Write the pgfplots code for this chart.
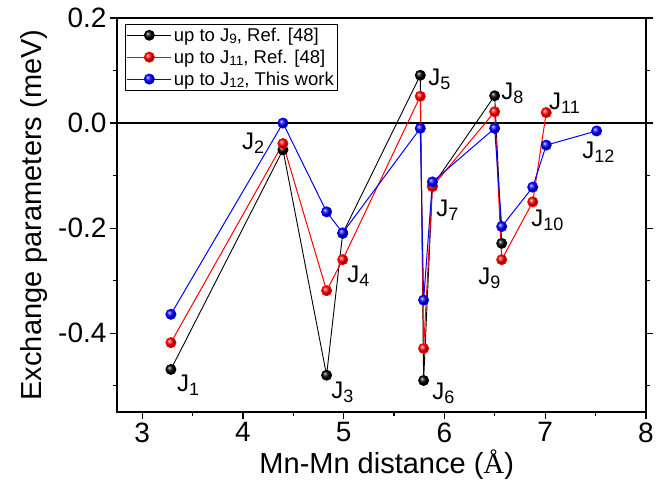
\documentclass[border=0pt]{standalone}
\usepackage{fontspec}
\setmainfont{Liberation Sans}
\newfontfamily\serifA{Liberation Serif}
\usepackage{pgfplots}
\pgfplotsset{compat=1.18}
\newcommand{\lbl}[1]{\fontsize{24}{26}\selectfont J\raisebox{-0.3ex}{\fontsize{18}{20}\selectfont #1}}
\newcommand{\lsub}[1]{\raisebox{-0.25ex}{\fontsize{13.5}{15}\selectfont #1}}
\begin{document}
\begin{tikzpicture}
\useasboundingbox (-117pt,-73pt) rectangle (549pt,412pt);
\begin{axis}[
  scale only axis, width=529pt, height=394pt,
  xmin=2.75, xmax=8, ymin=-0.55, ymax=0.2,
  xtick={3,4,5,6,7,8}, minor xtick={3.5,4.5,5.5,6.5,7.5},
  ytick={-0.4,-0.2,0,0.2}, minor ytick={-0.5,-0.3,-0.1,0.1},
  xtick pos=bottom, ytick pos=both,
  tick align=outside,
  major tick length=7pt, minor tick length=3.5pt,
  every tick/.style={black, line width=1.2pt},
  axis line style={line width=1.6pt},
  /pgf/number format/assume math mode=true,
  tick label style={font=\fontsize{28}{30}\selectfont},
  yticklabel style={/pgf/number format/fixed, /pgf/number format/fixed zerofill, /pgf/number format/precision=1},
  xticklabel style={/pgf/number format/fixed},
  xlabel={Mn-Mn distance ({\serifA Å})},
  ylabel={Exchange parameters (meV)},
  xlabel style={font=\fontsize{29}{31}\selectfont, at={(axis description cs:0.51,-0.157)}, anchor=base},
  ylabel style={font=\fontsize{29}{31}\selectfont, at={(axis description cs:-0.157,0.5)}, anchor=center},
  clip=false,
  legend style={at={(rel axis cs:0.015,0.985)}, anchor=north west, draw=black, line width=0.8pt,
    font=\fontsize{18.5}{20}\selectfont, inner sep=1.5pt, row sep=3pt, legend cell align=left},
  legend image code/.code={\draw[mark repeat=2,mark phase=2,#1] plot coordinates {(0pt,0pt)(22pt,0pt)(44pt,0pt)};},
]
\addplot[black, line width=1.5pt, forget plot] coordinates {(2.75,0) (8,0)};
\addplot[black, line width=0.9pt, mark=ball, mark size=5pt, mark options={ball color=black}] coordinates {
(3.285,-0.469) (4.397,-0.051) (4.83,-0.48) (4.99,-0.21) (5.76,0.091) (5.793,-0.49) (5.88,-0.12) (6.498,0.052) (6.568,-0.229)};
\addlegendentry{up to J\lsub{9}, Ref. [48]}
\addplot[red, line width=1pt, mark=ball, mark size=5pt, mark options={ball color=red}] coordinates {
(3.285,-0.418) (4.397,-0.039) (4.83,-0.319) (4.99,-0.26) (5.76,0.051) (5.793,-0.429) (5.88,-0.121) (6.498,0.0215) (6.568,-0.26) (6.876,-0.150) (7.01,0.020)};
\addlegendentry{up to J\lsub{11}, Ref. [48]}
\addplot[blue, line width=1pt, mark=ball, mark size=5pt, mark options={ball color=blue}] coordinates {
(3.285,-0.364) (4.397,0.0) (4.83,-0.169) (4.99,-0.209) (5.76,-0.010) (5.793,-0.337) (5.88,-0.112) (6.498,-0.010) (6.568,-0.197) (6.876,-0.122) (7.01,-0.042) (7.51,-0.015)};
\addlegendentry{up to J\lsub{12}, This work}
\node at (axis cs:3.457,-0.499) {\lbl{1}};
\node at (axis cs:4.102,-0.038) {\lbl{2}};
\node at (axis cs:4.986,-0.512) {\lbl{3}};
\node at (axis cs:5.145,-0.291) {\lbl{4}};
\node at (axis cs:5.949,0.084) {\lbl{5}};
\node at (axis cs:5.989,-0.514) {\lbl{6}};
\node at (axis cs:6.029,-0.166) {\lbl{7}};
\node at (axis cs:6.674,0.057) {\lbl{8}};
\node at (axis cs:6.446,-0.295) {\lbl{9}};
\node at (axis cs:7.022,-0.185) {\lbl{10}};
\node at (axis cs:7.191,0.038) {\lbl{11}};
\node at (axis cs:7.528,-0.055) {\lbl{12}};
\end{axis}
\end{tikzpicture}
\end{document}
